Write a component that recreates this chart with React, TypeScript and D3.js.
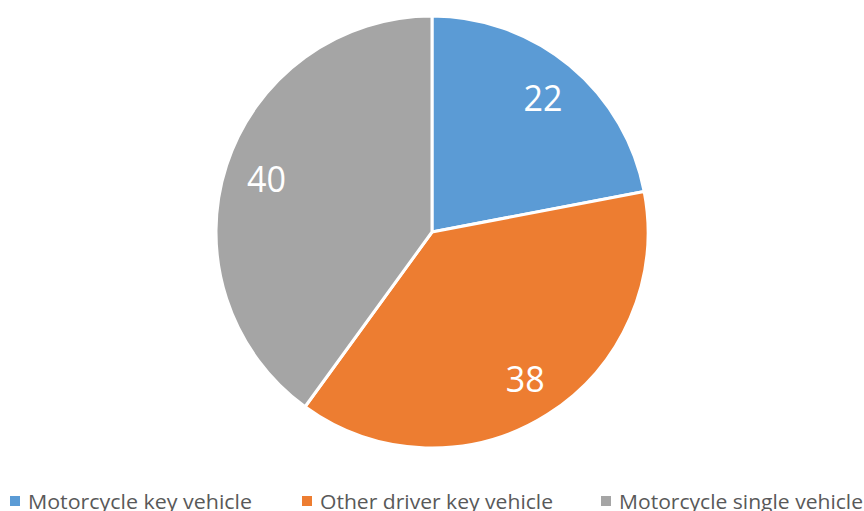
import React from "react";
import * as d3 from "d3";

const categories = ["Motorcycle key vehicle", "Other driver key vehicle", "Motorcycle single vehicle"];
const values = [22, 38, 40];
const colors = ["#5B9BD5", "#ED7D31", "#A5A5A5"];

export default function App() {
  const W = 864, H = 511;
  const cx = 432, cy = 232, R = 216;
  const pie = d3.pie<number>().sort(null).value((d) => d)(values);
  const arc = d3.arc<d3.PieArcDatum<number>>().innerRadius(0).outerRadius(R);
  const labelArc = d3.arc<d3.PieArcDatum<number>>().innerRadius(174).outerRadius(174);
  const legendX = [10, 302, 601];
  const legendW = [224, 233, 244];
  return (
    <svg width={W} height={H} style={{ position: "absolute", left: 0, top: 0 }}
      fontFamily="'Open Sans', 'Noto Sans', sans-serif">
      <rect width={W} height={H} fill="#fff" />
      <g transform={`translate(${cx},${cy})`}>
        {pie.map((p, i) => (
          <path key={i} d={arc(p) || ""} fill={colors[i]} stroke="#fff" strokeWidth={3} strokeLinejoin="round" />
        ))}
        {pie.map((p, i) => {
          const [x, y] = labelArc.centroid(p);
          return (
            <text key={i} x={x} y={y} dy="0.36em" textAnchor="middle" fill="#fff" fontSize={37}
              textLength={39} lengthAdjust="spacingAndGlyphs">
              {values[i]}
            </text>
          );
        })}
      </g>
      {categories.map((c, i) => (
        <g key={c}>
          <rect x={legendX[i]} y={496} width={10} height={10} fill={colors[i]} />
          <text x={legendX[i] + 18} y={509} fontSize={20} fill="#595959" textLength={legendW[i]} lengthAdjust="spacingAndGlyphs">
            {c}
          </text>
        </g>
      ))}
    </svg>
  );
}
